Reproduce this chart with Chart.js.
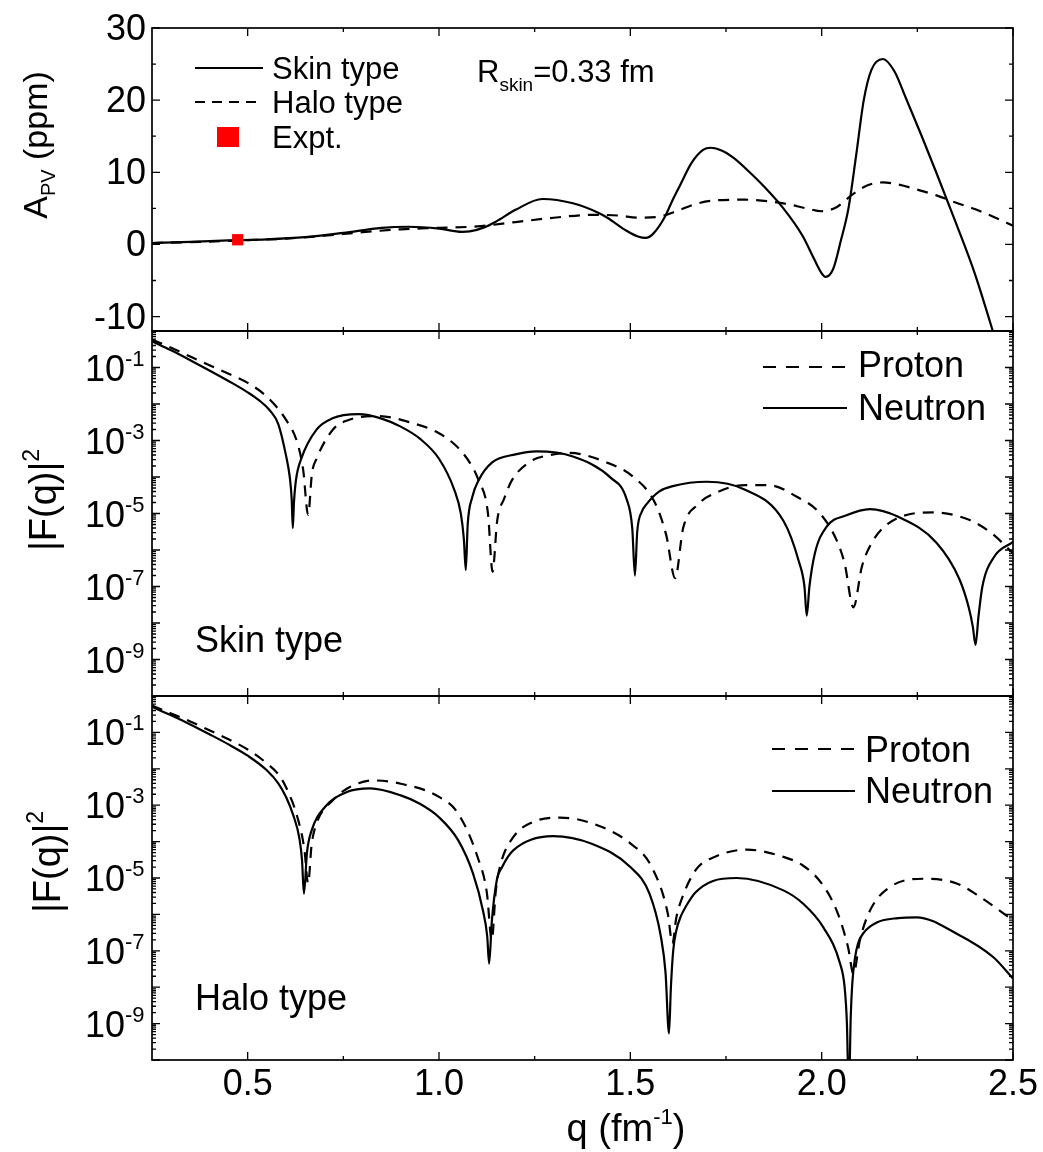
<!DOCTYPE html>
<html>
<head>
<meta charset="utf-8">
<title>A_PV and form factors</title>
<script src="https://cdn.jsdelivr.net/npm/chart.js@4.4.1/dist/chart.umd.min.js"></script>
<style>
  html, body { margin: 0; padding: 0; background: #fff; }
  .figure { position: relative; width: 1043px; height: 1152px; overflow: hidden; background: #fff; }
  .figure canvas { position: absolute; left: 0; }
</style>
</head>
<body>
<div class="figure">
  <canvas id="apv-chart" width="1043" height="340" style="top:0"></canvas>
  <canvas id="skin-chart" width="1043" height="385" style="top:321px"></canvas>
  <canvas id="halo-chart" width="1043" height="466" style="top:686px"></canvas>
</div>
<script>
const FONT = '"Liberation Sans", Arial, Helvetica, sans-serif';

// A_PV (ppm) vs q (fm^-1)
const skinQ   = [0.25, 0.35, 0.45, 0.55, 0.65, 0.75, 0.85, 0.92, 1.0, 1.06, 1.08, 1.12, 1.15, 1.2, 1.27, 1.35, 1.42, 1.44, 1.49, 1.52, 1.54, 1.56, 1.59, 1.61, 1.63, 1.66, 1.69, 1.71, 1.74, 1.77, 1.8, 1.85, 1.9, 1.95, 1.98, 2.0, 2.01, 2.03, 2.05, 2.07, 2.09, 2.11, 2.13, 2.16, 2.19, 2.22, 2.26, 2.3, 2.35, 2.4, 2.45, 2.5];
const skinApv = [0.2, 0.35, 0.55, 0.7, 1.0, 1.6, 2.3, 2.45, 2.2, 1.75, 1.8, 2.4, 3.2, 4.8, 6.3, 5.7, 4.3, 3.7, 1.9, 1.1, 0.9, 1.5, 3.8, 6.1, 8.2, 11.3, 13.1, 13.4, 13.0, 12.0, 10.6, 8.0, 5.0, 1.2, -2.0, -4.0, -4.5, -3.4, 0.5, 5.0, 12.3, 20.0, 24.2, 25.7, 24.0, 20.3, 15.2, 9.9, 3.1, -4.0, -12.5, -21.5];

const haloQ   = [0.25, 0.4, 0.5, 0.6, 0.7, 0.8, 0.9, 1.0, 1.1, 1.2, 1.3, 1.4, 1.47, 1.52, 1.57, 1.62, 1.67, 1.72, 1.8, 1.9, 1.96, 2.0, 2.04, 2.08, 2.12, 2.16, 2.2, 2.25, 2.3, 2.35, 2.4, 2.45, 2.5];
const haloApv = [0.2, 0.4, 0.6, 0.8, 1.2, 1.7, 2.1, 2.3, 2.5, 3.1, 3.7, 4.1, 4.0, 3.7, 3.8, 4.6, 5.6, 6.1, 6.2, 5.7, 5.0, 4.6, 5.2, 6.9, 8.2, 8.6, 8.3, 7.6, 6.8, 5.8, 4.9, 3.8, 2.6];

const exptQ   = [0.474];
const exptApv = [0.65];

// |F(q)|^2, stored as the decimal exponent
const skinNeutronQ   = [0.25, 0.3, 0.35, 0.4, 0.45, 0.5, 0.53, 0.56, 0.58, 0.6, 0.61, 0.615, 0.618, 0.621, 0.626, 0.64, 0.68, 0.72, 0.79, 0.85, 0.9, 0.95, 1.0, 1.04, 1.057, 1.065, 1.07, 1.075, 1.087, 1.104, 1.139, 1.2, 1.255, 1.35, 1.45, 1.49, 1.505, 1.512, 1.518, 1.53, 1.542, 1.575, 1.611, 1.7, 1.8, 1.9, 1.94, 1.955, 1.961, 1.968, 1.982, 2.013, 2.065, 2.126, 2.2, 2.3, 2.36, 2.385, 2.395, 2.402, 2.41, 2.42, 2.45, 2.5];
const skinNeutronExp = [-0.28, -0.53, -0.8, -1.08, -1.37, -1.68, -1.9, -2.2, -2.55, -3.4, -4.0, -4.6, -5.4, -4.7, -4.1, -3.5, -2.7, -2.4, -2.28, -2.4, -2.62, -2.95, -3.5, -4.35, -5.0, -5.7, -6.55, -5.3, -4.55, -4.08, -3.6, -3.38, -3.3, -3.44, -4.03, -4.6, -5.4, -6.7, -5.5, -4.95, -4.75, -4.4, -4.25, -4.13, -4.35, -5.2, -6.3, -7.0, -7.8, -7.0, -6.1, -5.36, -5.05, -4.88, -5.09, -5.8, -6.8, -7.6, -8.1, -8.6, -7.8, -7.0, -6.2, -5.78];

const skinProtonQ    = [0.25, 0.3, 0.35, 0.4, 0.45, 0.5, 0.55, 0.6, 0.63, 0.645, 0.658, 0.668, 0.68, 0.723, 0.76, 0.84, 0.93, 1.0, 1.046, 1.08, 1.103, 1.128, 1.14, 1.152, 1.17, 1.19, 1.238, 1.29, 1.34, 1.438, 1.507, 1.564, 1.594, 1.617, 1.638, 1.677, 1.72, 1.8, 1.86, 1.935, 1.995, 2.039, 2.06, 2.083, 2.105, 2.126, 2.16, 2.239, 2.29, 2.387, 2.444, 2.5];
const skinProtonExp  = [-0.23, -0.46, -0.7, -0.94, -1.17, -1.42, -1.8, -2.43, -3.07, -3.8, -5.04, -3.9, -3.5, -2.7, -2.45, -2.33, -2.52, -2.8, -3.16, -3.6, -4.08, -5.0, -6.6, -5.2, -4.6, -4.1, -3.58, -3.4, -3.34, -3.6, -3.99, -4.7, -5.6, -6.77, -5.4, -4.75, -4.45, -4.22, -4.22, -4.54, -4.99, -5.73, -6.37, -7.57, -6.46, -5.9, -5.4, -5.0, -4.97, -5.18, -5.54, -6.09];

const haloNeutronQ   = [0.25, 0.3, 0.35, 0.4, 0.45, 0.5, 0.55, 0.58, 0.6, 0.62, 0.635, 0.642, 0.647, 0.655, 0.667, 0.702, 0.759, 0.82, 0.9, 0.95, 1.0, 1.05, 1.089, 1.115, 1.126, 1.131, 1.138, 1.151, 1.165, 1.18, 1.194, 1.24, 1.298, 1.399, 1.5, 1.55, 1.58, 1.592, 1.601, 1.606, 1.612, 1.62, 1.632, 1.647, 1.67, 1.716, 1.778, 1.9, 1.951, 2.004, 2.048, 2.06, 2.066, 2.071, 2.076, 2.08, 2.087, 2.095, 2.11, 2.144, 2.2, 2.248, 2.353, 2.448, 2.5];
const haloNeutronExp = [-0.3, -0.53, -0.78, -1.05, -1.33, -1.64, -2.04, -2.4, -2.77, -3.3, -3.9, -4.5, -5.43, -4.3, -3.7, -3.05, -2.64, -2.54, -2.73, -2.96, -3.33, -3.96, -4.88, -5.9, -6.6, -7.35, -6.2, -5.06, -4.7, -4.42, -4.24, -3.95, -3.85, -4.06, -4.7, -5.43, -6.62, -7.6, -9.27, -8.0, -7.0, -6.45, -6.05, -5.75, -5.4, -5.08, -5.0, -5.34, -5.7, -6.35, -7.35, -8.0, -9.0, -11.0, -8.8, -7.9, -7.2, -6.8, -6.5, -6.22, -6.1, -6.08, -6.53, -7.17, -7.76];

const haloProtonQ    = [0.25, 0.3, 0.35, 0.4, 0.45, 0.5, 0.55, 0.58, 0.6, 0.63, 0.648, 0.658, 0.667, 0.68, 0.723, 0.767, 0.828, 0.9, 1.0, 1.05, 1.101, 1.125, 1.138, 1.148, 1.159, 1.194, 1.246, 1.316, 1.4, 1.5, 1.556, 1.598, 1.61, 1.62, 1.637, 1.673, 1.72, 1.804, 1.9, 1.95, 2.0, 2.039, 2.069, 2.083, 2.1, 2.126, 2.178, 2.274, 2.353, 2.414, 2.5];
const haloProtonExp  = [-0.26, -0.48, -0.7, -0.94, -1.19, -1.47, -1.85, -2.15, -2.5, -3.33, -4.2, -5.15, -4.1, -3.5, -2.86, -2.5, -2.32, -2.41, -2.77, -3.23, -4.43, -5.4, -6.7, -5.4, -4.7, -3.88, -3.46, -3.34, -3.5, -4.05, -4.7, -5.98, -6.8, -6.1, -5.5, -4.75, -4.42, -4.22, -4.42, -4.65, -5.15, -5.89, -6.9, -7.63, -6.7, -5.9, -5.25, -5.02, -5.15, -5.52, -6.16];

// axes
const xMajor = [0.5, 1.0, 1.5, 2.0, 2.5];
const xMinor = [0.75, 1.25, 1.75, 2.25];
const apvMajor = [-10, 0, 10, 20, 30];
const apvMinor = [-5, 5, 15, 25];
const logLabelExp = [-1, -3, -5, -7, -9];

let logMajor = [], logMinor = [];
for (let n = -10; n <= 0; n++) {
    logMajor.push(Math.pow(10, n));
    if (n < 0) {
        for (let k = 2; k <= 9; k++) logMinor.push(k * Math.pow(10, n));
    }
}

function points(q, v) {
    return q.map((x, i) => ({ x: x, y: v[i] }));
}

function logPoints(q, e) {
    return q.map((x, i) => ({ x: x, y: Math.pow(10, e[i]) }));
}

function curve(label, data, dashed) {
    return {
        label: label,
        data: data,
        borderColor: '#000',
        backgroundColor: '#000',
        borderWidth: 2.2,
        borderDash: dashed ? [11, 8] : [],
        pointRadius: 0,
        fill: false,
        cubicInterpolationMode: 'monotone',
    };
}

// text with super/subscript pieces: parts = [[text, size, shift], ...]
function richText(ctx, parts, x, y, align) {
    let total = 0;
    parts.forEach(p => {
        ctx.font = p[1] + 'px ' + FONT;
        total += ctx.measureText(p[0]).width;
    });
    let cx = x;
    if (align === 'center') cx = x - total / 2;
    if (align === 'right') cx = x - total;
    parts.forEach(p => {
        ctx.font = p[1] + 'px ' + FONT;
        ctx.fillText(p[0], cx, y + (p[2] || 0));
        cx += ctx.measureText(p[0]).width;
    });
}

function markX(ctx, area, px, len) {
    ctx.moveTo(px, area.top);
    ctx.lineTo(px, area.top + len);
    ctx.moveTo(px, area.bottom);
    ctx.lineTo(px, area.bottom - len);
}

function markY(ctx, area, py, len) {
    ctx.moveTo(area.left, py);
    ctx.lineTo(area.left + len, py);
    ctx.moveTo(area.right, py);
    ctx.lineTo(area.right - len, py);
}

const framePlugin = {
    id: 'frame',
    afterDraw(chart, args, opts) {
        const ctx = chart.ctx,
            area = chart.chartArea,
            xs = chart.scales.x,
            ys = chart.scales.y;

        ctx.save();
        ctx.strokeStyle = '#000';
        ctx.fillStyle = '#000';
        ctx.setLineDash([]);
        ctx.textAlign = 'left';
        ctx.textBaseline = 'alphabetic';

        // inward ticks on all four sides
        ctx.lineWidth = 1.3;
        ctx.beginPath();
        xMajor.forEach(v => markX(ctx, area, xs.getPixelForValue(v), 8));
        xMinor.forEach(v => markX(ctx, area, xs.getPixelForValue(v), 4));
        opts.yMajor.forEach(v => markY(ctx, area, ys.getPixelForValue(v), 8));
        opts.yMinor.forEach(v => markY(ctx, area, ys.getPixelForValue(v), 4));
        ctx.stroke();

        ctx.lineWidth = 1.7;
        ctx.strokeRect(area.left, area.top, area.right - area.left, area.bottom - area.top);

        if (opts.log) {
            logLabelExp.forEach(e => {
                const py = ys.getPixelForValue(Math.pow(10, e));
                richText(ctx, [['10', 36], [String(e), 22, -15]], 85, py + 13, 'left');
            });
        } else {
            apvMajor.forEach(v => {
                richText(ctx, [[String(v), 36]], 146, ys.getPixelForValue(v) + 12, 'right');
            });
        }

        if (opts.xLabels) {
            xMajor.forEach(v => {
                richText(ctx, [[v.toFixed(1), 36]], xs.getPixelForValue(v), area.bottom + 35, 'center');
            });
        }

        // annotations are given in page coordinates
        ctx.translate(0, -opts.top);

        (opts.keys || []).forEach(k => {
            if (k.square) {
                ctx.fillStyle = k.color;
                ctx.fillRect(k.square[0] - k.square[2] / 2, k.square[1] - k.square[3] / 2, k.square[2], k.square[3]);
                ctx.fillStyle = '#000';
                return;
            }
            ctx.lineWidth = 2.2;
            ctx.setLineDash(k.dash || []);
            ctx.beginPath();
            ctx.moveTo(k.x1, k.y);
            ctx.lineTo(k.x2, k.y);
            ctx.stroke();
            ctx.setLineDash([]);
        });

        (opts.texts || []).forEach(t => richText(ctx, t.parts, t.x, t.y, t.align || 'left'));

        (opts.titles || []).forEach(t => {
            ctx.save();
            ctx.translate(t.x, t.y);
            ctx.rotate(-Math.PI / 2);
            richText(ctx, t.parts, 0, 0, 'center');
            ctx.restore();
        });

        ctx.restore();
    }
};

function makeChart(id, datasets, yScale, padding, frame) {
    return new Chart(document.getElementById(id).getContext('2d'), {
        type: 'line',
        data: { datasets: datasets },
        options: {
            responsive: false,
            animation: false,
            events: [],
            layout: { padding: padding },
            scales: {
                x: { type: 'linear', min: 0.25, max: 2.5, display: false },
                y: yScale,
            },
            plugins: {
                legend: { display: false },
                tooltip: { enabled: false },
                frame: frame,
            },
        },
        plugins: [framePlugin],
    });
}

// top panel: parity-violating asymmetry
makeChart('apv-chart', [
    {
        label: 'Expt.',
        data: points(exptQ, exptApv),
        showLine: false,
        pointStyle: 'rect',
        pointRadius: 8,
        backgroundColor: '#ff0000',
        borderColor: '#ff0000',
        borderWidth: 0,
    },
    curve('Skin type', points(skinQ, skinApv), false),
    curve('Halo type', points(haloQ, haloApv), true),
], { type: 'linear', min: -12, max: 30, display: false },
{ left: 152, right: 30, top: 28, bottom: 9 },
{
    top: 0,
    yMajor: apvMajor,
    yMinor: apvMinor,
    keys: [
        { x1: 195, x2: 263, y: 68 },
        { x1: 195, x2: 262, y: 102, dash: [10, 7] },
        { square: [228, 137, 22, 20], color: '#ff0000' },
    ],
    texts: [
        { x: 272, y: 79, parts: [['Skin type', 31]] },
        { x: 272, y: 113, parts: [['Halo type', 31]] },
        { x: 272, y: 148, parts: [['Expt.', 31]] },
        { x: 477, y: 82, parts: [['R', 31], ['skin', 19, 9], ['=0.33 fm', 31]] },
    ],
    titles: [
        { x: 47, y: 145, parts: [['A', 34], ['PV', 20, 8], [' (ppm)', 34]] },
    ],
});

// middle panel: skin type form factors
makeChart('skin-chart', [
    curve('Proton', logPoints(skinProtonQ, skinProtonExp), true),
    curve('Neutron', logPoints(skinNeutronQ, skinNeutronExp), false),
], { type: 'logarithmic', min: 1e-10, max: 1, display: false },
{ left: 152, right: 30, top: 10, bottom: 10 },
{
    top: 321,
    log: true,
    yMajor: logMajor,
    yMinor: logMinor,
    keys: [
        { x1: 763, x2: 847, y: 367, dash: [13, 10] },
        { x1: 763, x2: 847, y: 408 },
    ],
    texts: [
        { x: 858, y: 377, parts: [['Proton', 36]] },
        { x: 858, y: 420, parts: [['Neutron', 36]] },
        { x: 195, y: 652, parts: [['Skin type', 36]] },
    ],
    titles: [
        { x: 56, y: 500, parts: [['|F(q)|', 38], ['2', 23, -17]] },
    ],
});

// bottom panel: halo type form factors
makeChart('halo-chart', [
    curve('Proton', logPoints(haloProtonQ, haloProtonExp), true),
    curve('Neutron', logPoints(haloNeutronQ, haloNeutronExp), false),
], { type: 'logarithmic', min: 1e-10, max: 1, display: false },
{ left: 152, right: 30, top: 10, bottom: 92 },
{
    top: 686,
    log: true,
    xLabels: true,
    yMajor: logMajor,
    yMinor: logMinor,
    keys: [
        { x1: 772, x2: 855, y: 749, dash: [13, 10] },
        { x1: 772, x2: 855, y: 791 },
    ],
    texts: [
        { x: 865, y: 762, parts: [['Proton', 36]] },
        { x: 865, y: 803, parts: [['Neutron', 36]] },
        { x: 195, y: 1010, parts: [['Halo type', 36]] },
        { x: 626, y: 1141, align: 'center', parts: [['q (fm', 38], ['-1', 22, -17], [')', 38]] },
    ],
    titles: [
        { x: 60, y: 862, parts: [['|F(q)|', 38], ['2', 23, -17]] },
    ],
});
</script>
</body>
</html>
